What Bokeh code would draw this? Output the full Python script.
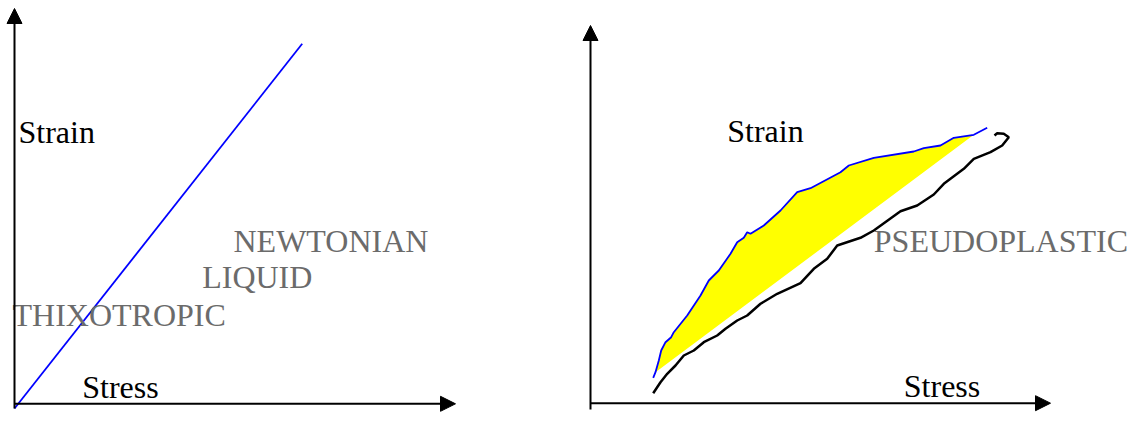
from bokeh.plotting import figure
from bokeh.models import Range1d, Arrow, NormalHead
from bokeh.layouts import row
from bokeh.core.properties import value
from bokeh.embed import file_html
from bokeh.resources import INLINE

# ---------------- data (stress / strain, arbitrary units) ----------------
# Left panel: Newtonian liquid (straight line through origin)
newtonian_stress = [0.0, 287.7]
newtonian_strain = [-4.7, 360.0]

# Right panel: pseudoplastic / thixotropic loop
pseudo_up_stress = [62.7, 65.0, 68.3, 70.7, 75.0, 80.7, 83.3, 96.7, 110.0, 118.3, 128.3, 140.0,
                    146.7, 153.3, 156.7, 160.0, 173.3, 190.0, 206.7, 220.0, 250.0, 258.3, 283.3,
                    323.3, 333.3, 350.0, 363.3, 383.3, 396.7]
pseudo_up_strain = [25.4, 31.0, 42.7, 52.7, 61.0, 66.0, 71.0, 87.7, 107.7, 122.7, 132.7, 149.4,
                    161.0, 165.4, 171.0, 169.4, 177.7, 192.7, 211.0, 215.0, 231.0, 237.7, 245.4,
                    251.7, 255.0, 257.7, 265.4, 268.4, 275.4]

pseudo_down_stress = [62.7, 70.0, 76.7, 85.0, 93.3, 103.3, 113.3, 126.7, 135.0, 146.7, 156.7, 170.0,
                      186.7, 210.0, 223.3, 236.7, 246.7, 270.0, 283.3, 310.0, 326.7, 343.3, 353.3,
                      373.3, 383.3, 400.0, 411.7, 418.3, 413.3, 406.7, 404.0]
pseudo_down_strain = [10.0, 21.0, 29.4, 37.7, 47.7, 52.7, 61.0, 67.7, 74.4, 82.7, 87.7, 99.4,
                      109.4, 120.0, 134.4, 144.4, 157.7, 165.4, 172.7, 192.0, 197.7, 208.7, 219.4,
                      234.4, 244.4, 251.0, 257.7, 266.0, 269.4, 270.0, 267.7]

# Labels
left_axis_labels = ["Strain", "Stress"]
left_axis_label_x = [4.0, 67.7]
left_axis_label_y = [272.0, 17.0]
left_type_labels = ["NEWTONIAN", "LIQUID", "THIXOTROPIC"]
left_type_label_x = [219.0, 187.7, -2.0]
left_type_label_y = [163.0, 126.7, 88.8]

right_axis_labels = ["Strain", "Stress"]
right_axis_label_x = [136.7, 313.3]
right_axis_label_y = [272.4, 17.4]
right_type_labels = ["PSEUDOPLASTIC"]
right_type_label_x = [283.3]
right_type_label_y = [162.2]

# axis extents (arrow tips)
left_x_max, left_y_max = 441.0, 395.3
right_x_max, right_y_max = 460.0, 377.7

FONT = value("Liberation Serif")
GRAY = "#6b6b6b"
FS = "32px"


def make_fig(width, xr, yr):
    p = figure(width=width, height=423, x_range=Range1d(*xr), y_range=Range1d(*yr),
               output_backend="svg", toolbar_location=None, x_axis_type=None,
               y_axis_type=None, min_border=0, outline_line_color=None,
               background_fill_color="white", border_fill_color="white")
    p.grid.visible = False
    return p


def axes(p, xmax, ymax, ybottom):
    p.add_layout(Arrow(end=NormalHead(size=15, fill_color="black", line_color="black"),
                       x_start=0, y_start=ybottom, x_end=0, y_end=ymax,
                       line_width=2, line_color="black"))
    p.add_layout(Arrow(end=NormalHead(size=15, fill_color="black", line_color="black"),
                       x_start=0, y_start=0, x_end=xmax, y_end=0,
                       line_width=2, line_color="black"))


# ---------------- left panel ----------------
p1 = make_fig(578, (-14, 564), (-19.7, 403.3))
axes(p1, left_x_max, left_y_max, -4.7)
p1.line(newtonian_stress, newtonian_strain, line_color="#0000ff", line_width=1.8)
p1.text(x=left_axis_label_x, y=left_axis_label_y, text=left_axis_labels,
        text_font=FONT, text_font_size=FS, text_color="black",
        text_baseline="alphabetic", text_align="left")
p1.text(x=left_type_label_x, y=left_type_label_y, text=left_type_labels,
        text_font=FONT, text_font_size=FS, text_color=GRAY,
        text_baseline="alphabetic", text_align="left")

# ---------------- right panel ----------------
p2 = make_fig(552, (-12, 540), (-20.3, 402.7))
axes(p2, right_x_max, right_y_max, -6.3)
p2.patch(pseudo_up_stress[1:-1], pseudo_up_strain[1:-1], fill_color="#ffff00", line_color=None)
p2.line(pseudo_down_stress, pseudo_down_strain, line_color="black", line_width=2.5)
p2.line(pseudo_up_stress, pseudo_up_strain, line_color="#0000ff", line_width=1.8)
p2.text(x=right_axis_label_x, y=right_axis_label_y, text=right_axis_labels,
        text_font=FONT, text_font_size=FS, text_color="black",
        text_baseline="alphabetic", text_align="left")
p2.text(x=right_type_label_x, y=right_type_label_y, text=right_type_labels,
        text_font=FONT, text_font_size=FS, text_color=GRAY,
        text_baseline="alphabetic", text_align="left")

layout = row(p1, p2)
open("out.html", "w").write(file_html(layout, INLINE))
